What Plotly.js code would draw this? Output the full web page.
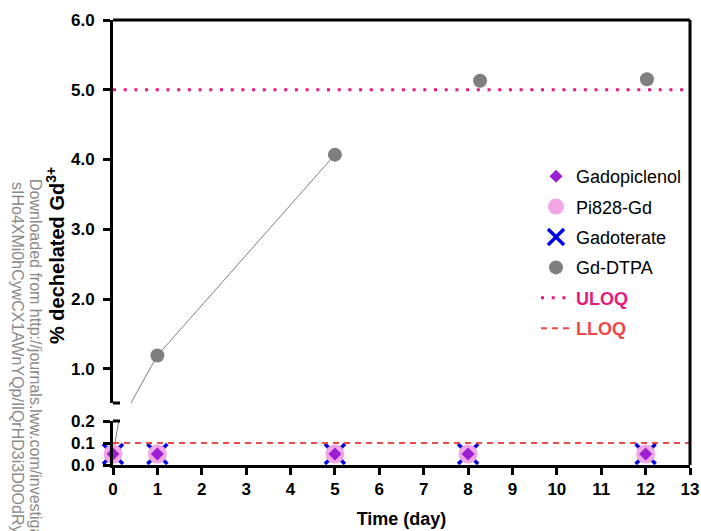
<!DOCTYPE html>
<html>
<head>
<meta charset="utf-8">
<script src="https://cdn.plot.ly/plotly-3.0.1.min.js"></script>
<style>
  html, body { margin: 0; padding: 0; background: #fff; }
  #chart { width: 701px; height: 531px; }
</style>
</head>
<body>
<div id="chart"></div>
<script>
// ---------- data ----------
const days = [0, 1, 5, 8, 12];
const gadopiclenol = [0.05, 0.05, 0.05, 0.05, 0.05];
const pi828Gd = [0.05, 0.05, 0.05, 0.05, 0.05];
const gadoterate = [0.05, 0.05, 0.05, 0.05, 0.05];
const dtpaDays = [0, 1, 5, 8.27, 12.03];
const gdDTPA = [0.05, 1.19, 4.07, 5.13, 5.15];
const dtpaConnected = 3;   // the connecting line joins the first three Gd-DTPA points
const limitDays = [0, 13];
const uloq = 5.0;
const lloq = 0.1;
const xTicks = [0, 1, 2, 3, 4, 5, 6, 7, 8, 9, 10, 11, 12, 13];
const lowTicks = [0.0, 0.1, 0.2];
const highTicks = [1.0, 2.0, 3.0, 4.0, 5.0, 6.0];
const watermark1 = "Downloaded from http://journals.lww.com/investigativeradiology by BhDMf5ePHKav1zEoum1tQfN4a+kJLhEZgb";
const watermark2 = "sIHo4XMi0hCywCX1AWnYQp/IlQrHD3i3D0OdRyi7TvSFl4Cf3VC4/OAVpDDa8KKGKV0Ymy+78=";

// ---------- styling ----------
const FONT = "Liberation Sans, Arial, Helvetica, sans-serif";
const C_PURPLE = "#9b1ed2";
const C_PINK = "#f2a6e6";
const C_BLUE = "#0000e6";
const C_GREY = "#7f7f7f";
const C_ULOQ = "#e8197d";
const C_LLOQ = "#f04848";

const W = 701, H = 531;
const M = { l: 113, r: 11, t: 20, b: 66 };
const plotH = H - M.t - M.b;
const py = p => (H - M.b - p) / plotH;          // pixel row -> paper y
const px = p => (p - M.l) / (W - M.l - M.r);    // pixel col -> paper x

const lowDomain = [0, py(421)];
const highDomain = [py(403), 1];

const traces = [];
const panels = ["y", "y2"];

panels.forEach((ya) => {
  traces.push({
    x: dtpaDays.slice(0, dtpaConnected), y: gdDTPA.slice(0, dtpaConnected),
    xaxis: "x", yaxis: ya, mode: "lines",
    line: { color: C_GREY, width: 1 }, showlegend: false, hoverinfo: "skip"
  });
});
panels.forEach((ya, i) => {
  traces.push({
    x: dtpaDays, y: gdDTPA, xaxis: "x", yaxis: ya, mode: "markers",
    name: "Gd-DTPA", legendgroup: "g4", legendrank: 4, showlegend: i === 1,
    marker: { symbol: "circle", size: 14, color: C_GREY },
    cliponaxis: false
  });
});
panels.forEach((ya, i) => {
  traces.push({
    x: days, y: gadoterate, xaxis: "x", yaxis: ya, mode: "markers",
    name: "Gadoterate", legendgroup: "g3", legendrank: 3, showlegend: i === 0,
    marker: { symbol: "x-thin-open", size: 20, color: C_BLUE, line: { color: C_BLUE, width: 3.5 } },
    cliponaxis: false
  });
});
panels.forEach((ya, i) => {
  traces.push({
    x: days, y: pi828Gd, xaxis: "x", yaxis: ya, mode: "markers",
    name: "Pi828-Gd", legendgroup: "g2", legendrank: 2, showlegend: i === 0,
    marker: { symbol: "circle", size: 19, color: C_PINK },
    cliponaxis: false
  });
});
panels.forEach((ya, i) => {
  traces.push({
    x: days, y: gadopiclenol, xaxis: "x", yaxis: ya, mode: "markers",
    name: "Gadopiclenol", legendgroup: "g1", legendrank: 1, showlegend: i === 0,
    marker: { symbol: "diamond", size: 10, color: C_PURPLE },
    cliponaxis: false
  });
});
traces.push({
  x: limitDays, y: limitDays.map(() => uloq), xaxis: "x", yaxis: "y2", mode: "lines",
  name: '<b><span style="color:' + C_ULOQ + '">ULOQ</span></b>',
  legendgroup: "g5", legendrank: 5,
  line: { color: C_ULOQ, width: 3, dash: "3px,7.7px" }, hoverinfo: "skip"
});
traces.push({
  x: limitDays, y: limitDays.map(() => lloq), xaxis: "x", yaxis: "y", mode: "lines",
  name: '<b><span style="color:' + C_LLOQ + '">LLOQ</span></b>',
  legendgroup: "g6", legendrank: 6,
  line: { color: C_LLOQ, width: 2, dash: "6px,5px" }, hoverinfo: "skip"
});

const tickFont = { family: FONT, size: 17, color: "#000", weight: "bold" };
const axisCommon = {
  showgrid: false, zeroline: false, showline: true, linecolor: "#000", linewidth: 3,
  ticks: "outside", ticklen: 7, tickwidth: 3, tickcolor: "#000", tickfont: tickFont
};

const capShape = (yref) => ({
  type: "line", xref: "x", xsizemode: "pixel", xanchor: 0, x0: -7, x1: 7,
  yref: yref, y0: yref === "y2 domain" ? 0 : 1, y1: yref === "y2 domain" ? 0 : 1,
  line: { color: "#000", width: 3 }
});

const layout = {
  width: W, height: H,
  margin: M,
  paper_bgcolor: "#fff", plot_bgcolor: "#fff",
  font: { family: FONT, color: "#000" },
  showlegend: true,
  xaxis: Object.assign({}, axisCommon, {
    domain: [0, 1], range: [0, 13], anchor: "y",
    tickvals: xTicks, ticktext: xTicks.map(String),
    title: { text: "<b>Time (day)</b>", font: { family: FONT, size: 18, color: "#000" }, standoff: 14 }
  }),
  yaxis: Object.assign({}, axisCommon, {
    domain: lowDomain, range: [0, 0.2], anchor: "x",
    tickvals: lowTicks, ticktext: lowTicks.map(v => v.toFixed(1)),
    ticklabelstandoff: 5
  }),
  yaxis2: Object.assign({}, axisCommon, {
    domain: highDomain, range: [0.51, 6.0], anchor: "x",
    tickvals: highTicks, ticktext: highTicks.map(v => v.toFixed(1)),
    ticklabelstandoff: 5
  }),
  legend: {
    x: px(536), y: py(158), xanchor: "left", yanchor: "top",
    bgcolor: "rgba(0,0,0,0)", borderwidth: 0,
    font: { family: FONT, size: 18, color: "#000" },
    traceorder: "grouped", tracegroupgap: 4, itemwidth: 30
  },
  shapes: [
    { type: "line", xref: "paper", yref: "paper", x0: 0, x1: 1, y0: 1, y1: 1, line: { color: "#000", width: 3 } },
    { type: "line", xref: "paper", yref: "paper", x0: 1, x1: 1, y0: 0, y1: 1, line: { color: "#000", width: 3 } },
    capShape("y2 domain"),
    capShape("y domain")
  ],
  annotations: [
    {
      text: "<b>% dechelated Gd<sup>3+</sup></b>", textangle: -90, showarrow: false,
      xref: "paper", yref: "paper", x: px(55), y: py(256), xanchor: "center", yanchor: "middle",
      font: { family: FONT, size: 20, color: "#000" }
    },
    {
      text: watermark1, textangle: 90, showarrow: false,
      xref: "paper", yref: "paper", x: px(36), y: py(177), xanchor: "center", yanchor: "top",
      font: { family: FONT, size: 16, color: "#8a8a8a" }
    },
    {
      text: watermark2, textangle: 90, showarrow: false,
      xref: "paper", yref: "paper", x: px(18), y: py(180), xanchor: "center", yanchor: "top",
      font: { family: FONT, size: 16, color: "#8a8a8a" }
    }
  ]
};

Plotly.newPlot("chart", traces, layout, { displayModeBar: false, staticPlot: true });
</script>
</body>
</html>
